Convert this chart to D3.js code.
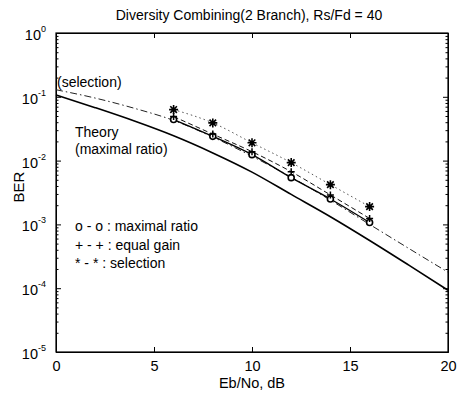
<!DOCTYPE html>
<meta charset="utf-8">
<style>
  body { margin: 0; background: #fff; }
  text { font-family: "Liberation Sans", Arial, sans-serif; fill: #000; }
  .axis path, .axis line { stroke: #000; }
  .theory { fill: none; stroke: #000; stroke-width: 1.6px; }
  .sel-theory { fill: none; stroke: #222; stroke-width: 1px; stroke-dasharray: 7,3,1.5,3; }
  .mrc { fill: none; stroke: #000; stroke-width: 1.4px; }
  .egc { fill: none; stroke: #111; stroke-width: 1px; stroke-dasharray: 5,3; }
  .sel { fill: none; stroke: #555; stroke-width: 1px; stroke-dasharray: 1.5,3; }
</style>
<svg width="457" height="393"></svg>
<script src="https://d3js.org/d3.v7.min.js"></script>
<script>

// theory curves, every 2 dB
var snrTheory = [0, 2, 4, 6, 8, 10, 12, 14, 16, 18, 20];
var berMrcTheory = [0.107, 0.0676, 0.0417, 0.0245, 0.0132, 0.0066, 0.00295, 0.00132, 0.00056, 0.00023, 0.000093];
var berSelTheory = [0.129, 0.0955, 0.066, 0.0427, 0.0234, 0.0117, 0.0055, 0.0024, 0.001, 0.00042, 0.000178];

// simulated points
var snrSim = [6, 8, 10, 12, 14, 16];
var berMrc = [0.044, 0.024, 0.0124, 0.0054, 0.0025, 0.00107];
var berEgc = [0.049, 0.026, 0.0138, 0.0067, 0.0029, 0.00124];
var berSel = [0.063, 0.039, 0.019, 0.0093, 0.0042, 0.0019];

var xTicks = [0, 5, 10, 15, 20];
var yExps = [0, -1, -2, -3, -4, -5];

var svg = d3.select("svg"),
    margin = {top: 33, right: 9, bottom: 41, left: 56},
    width = +svg.attr("width") - margin.left - margin.right,
    height = +svg.attr("height") - margin.top - margin.bottom;

var x = d3.scaleLinear().domain([0, 20]).range([0, width]);
var y = d3.scaleLog().domain([1e-5, 1]).range([height, 0]);

var g = svg.append("g")
    .attr("transform", "translate(" + margin.left + "," + margin.top + ")");

var minor = [];
for (var e = -5; e < 0; e++) {
  for (var m = 2; m <= 9; m++) minor.push(m * Math.pow(10, e));
}
var major = yExps.map(function(p) { return Math.pow(10, p); });

// axes, ticks pointing inward
g.append("g").attr("class", "axis")
    .attr("transform", "translate(0," + height + ")")
    .call(d3.axisBottom(x).tickValues(xTicks).tickSizeInner(-5).tickSizeOuter(0).tickPadding(9))
    .call(function(s) { s.selectAll("text").attr("font-size", 14.5); });

g.append("g").attr("class", "axis")
    .call(d3.axisTop(x).tickValues(xTicks).tickSizeInner(-5).tickSizeOuter(0).tickFormat(""));

g.append("g").attr("class", "axis")
    .call(d3.axisLeft(y).tickValues(minor).tickSizeInner(-2.5).tickSizeOuter(0).tickFormat(""));
g.append("g").attr("class", "axis")
    .attr("transform", "translate(" + width + ",0)")
    .call(d3.axisRight(y).tickValues(minor).tickSizeInner(-2.5).tickSizeOuter(0).tickFormat(""));
g.append("g").attr("class", "axis")
    .attr("transform", "translate(" + width + ",0)")
    .call(d3.axisRight(y).tickValues(major).tickSizeInner(-5).tickSizeOuter(0).tickFormat(""));

var yAx = g.append("g").attr("class", "axis")
    .call(d3.axisLeft(y).tickValues(major).tickSizeInner(-5).tickSizeOuter(0).tickPadding(10));
yAx.selectAll("text").each(function(d) {
  var t = d3.select(this).text(null).attr("font-size", 14.5).attr("dy", "0.45em");
  t.append("tspan").text("10");
  t.append("tspan").attr("font-size", 9).attr("dy", "-0.9em").text(Math.round(Math.log10(d)));
});

g.append("rect")
    .attr("width", width).attr("height", height)
    .attr("fill", "none").attr("stroke", "#000").attr("stroke-width", 1.2);

// curves
var line = d3.line()
    .x(function(d) { return x(d[0]); })
    .y(function(d) { return y(d[1]); })
    .curve(d3.curveMonotoneX);

g.append("path").datum(d3.zip(snrTheory, berMrcTheory)).attr("class", "theory").attr("d", line);
g.append("path").datum(d3.zip(snrTheory, berSelTheory)).attr("class", "sel-theory").attr("d", line);
g.append("path").datum(d3.zip(snrSim, berSel)).attr("class", "sel").attr("d", line);
g.append("path").datum(d3.zip(snrSim, berEgc)).attr("class", "egc").attr("d", line);
g.append("path").datum(d3.zip(snrSim, berMrc)).attr("class", "mrc").attr("d", line);

// markers
g.selectAll(".o").data(d3.zip(snrSim, berMrc)).enter().append("circle")
    .attr("cx", function(d) { return x(d[0]); })
    .attr("cy", function(d) { return y(d[1]); })
    .attr("r", 3).attr("fill", "#fff").attr("stroke", "#000").attr("stroke-width", 1.6);

g.selectAll(".p").data(d3.zip(snrSim, berEgc)).enter().append("path")
    .attr("transform", function(d) { return "translate(" + x(d[0]) + "," + y(d[1]) + ")"; })
    .attr("d", "M-3.5,0H3.5M0,-3.5V3.5")
    .attr("stroke", "#000").attr("stroke-width", 1.5);

g.selectAll(".s").data(d3.zip(snrSim, berSel)).enter().append("path")
    .attr("transform", function(d) { return "translate(" + x(d[0]) + "," + y(d[1]) + ")"; })
    .attr("d", "M-4.5,0H4.5M0,-4.5V4.5M-3.3,-3.3L3.3,3.3M-3.3,3.3L3.3,-3.3")
    .attr("stroke", "#000").attr("stroke-width", 1.6);

// labels
svg.append("text").attr("x", 249).attr("y", 20).attr("text-anchor", "middle")
    .attr("font-size", 14).text("Diversity Combining(2 Branch), Rs/Fd = 40");
svg.append("text").attr("x", margin.left + width / 2).attr("y", 388).attr("text-anchor", "middle")
    .attr("font-size", 14.5).text("Eb/No, dB");
svg.append("text").attr("transform", "translate(24,187) rotate(-90)").attr("text-anchor", "middle")
    .attr("font-size", 15).text("BER");

var notes = [
  {t: "(selection)", x: 57, y: 87},
  {t: "Theory", x: 75, y: 137},
  {t: "(maximal ratio)", x: 75, y: 154},
  {t: "o - o : maximal ratio", x: 75, y: 231},
  {t: "+ - + : equal gain", x: 75, y: 250},
  {t: "* - * : selection", x: 75, y: 268}
];
svg.selectAll(".note").data(notes).enter().append("text")
    .attr("x", function(d) { return d.x; })
    .attr("y", function(d) { return d.y; })
    .attr("font-size", 14)
    .text(function(d) { return d.t; });

</script>
</html>
